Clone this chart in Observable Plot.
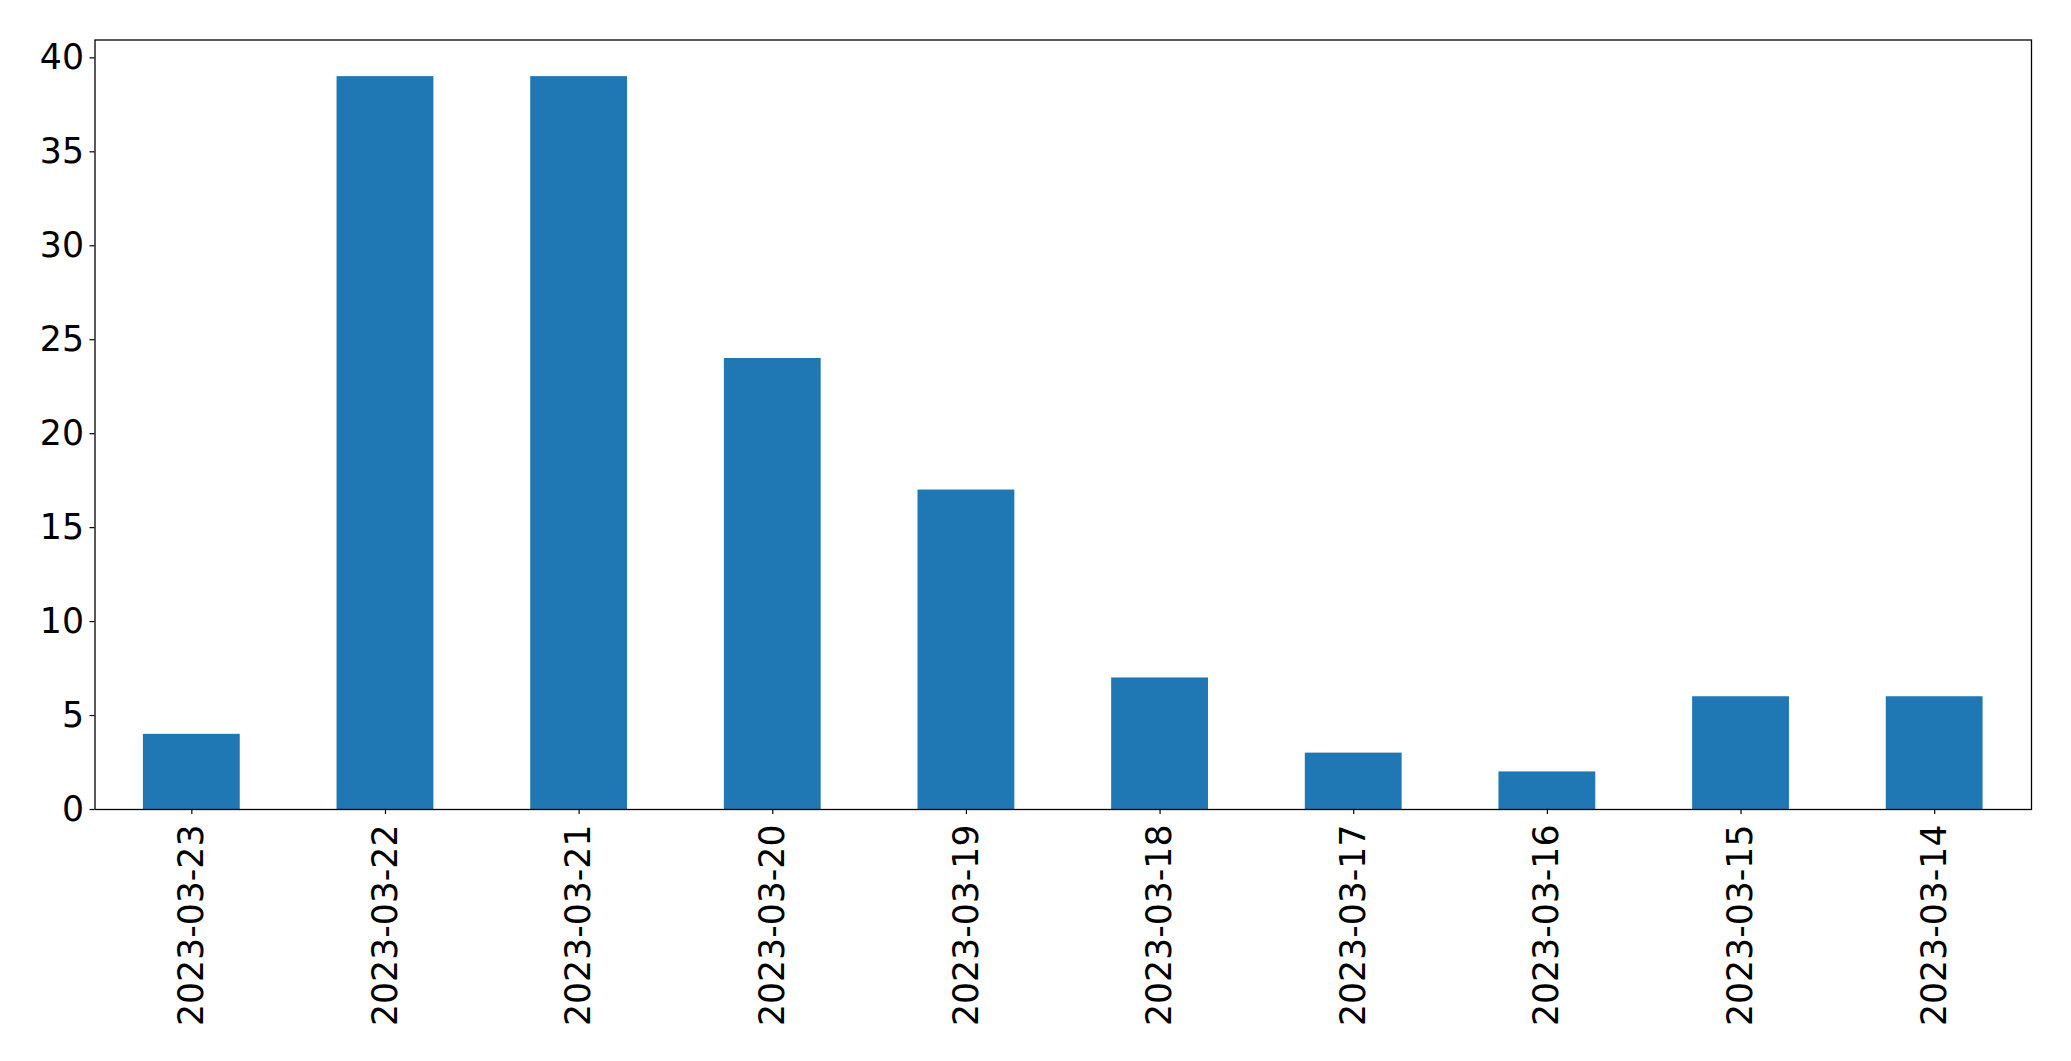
<!DOCTYPE html>
<html>
<head>
<meta charset="utf-8">
<script src="https://cdn.jsdelivr.net/npm/d3@7"></script>
<script src="https://cdn.jsdelivr.net/npm/@observablehq/plot@0.6"></script>
<style>
  html, body { margin: 0; padding: 0; background: #fff; }
  #chart svg { display: block; }
</style>
</head>
<body>
<div id="chart"></div>
<script>
const dates = ["2023-03-23","2023-03-22","2023-03-21","2023-03-20","2023-03-19","2023-03-18","2023-03-17","2023-03-16","2023-03-15","2023-03-14"];
const counts = [4, 39, 39, 24, 17, 7, 3, 2, 6, 6];
const yTicks = [0, 5, 10, 15, 20, 25, 30, 35, 40];

const data = dates.map((d, i) => ({date: d, count: counts[i]}));

const chart = Plot.plot({
  width: 2071,
  height: 1061,
  marginLeft: 94.5,
  marginRight: 40,
  marginTop: 39.5,
  marginBottom: 252,
  style: {fontFamily: "DejaVu Sans", fontSize: "34.7px", color: "#000", background: "#fff"},
  x: {domain: dates, type: "band", paddingInner: 0.5, paddingOuter: 0.25, align: 0.5, round: false},
  y: {domain: [0, 40.95]},
  marks: [
    Plot.barY(data, {x: "date", y: "count", fill: "#1f77b4"}),
    Plot.frame({stroke: "#000", strokeWidth: 1.3}),
    Plot.axisY({ticks: yTicks, tickSize: 5, tickPadding: 6, label: null, tickFormat: d => String(d), fontSize: 34.7, stroke: "#000", strokeWidth: 1.2}),
    Plot.axisX({tickRotate: -90, tickSize: 5, tickPadding: 10, label: null, fontSize: 34.7, stroke: "#000", strokeWidth: 1.2})
  ]
});
document.getElementById("chart").appendChild(chart);
</script>
</body>
</html>
